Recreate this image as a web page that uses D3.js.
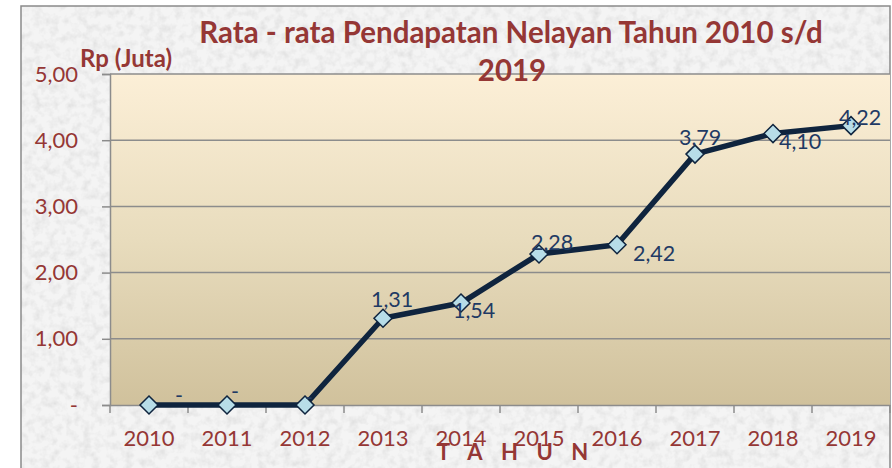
<!DOCTYPE html>
<html>
<head>
<meta charset="utf-8">
<script src="https://cdn.jsdelivr.net/npm/d3@7"></script>
<style>
    body { margin: 0; background: #fff; }
    svg { display: block; }
</style>
</head>
<body>
<div id="chart"></div>
<script>
const years = ["2010", "2011", "2012", "2013", "2014", "2015", "2016", "2017", "2018", "2019"];
const income = [0, 0, 0, 1.31, 1.54, 2.28, 2.42, 3.79, 4.10, 4.22];
const yTicks = [0, 1, 2, 3, 4, 5];
const yTickLabels = ["-", "1,00", "2,00", "3,00", "4,00", "5,00"];
const valueLabels = ["-", "-", "-", "1,31", "1,54", "2,28", "2,42", "3,79", "4,10", "4,22"];
// label nudges relative to each point (like excel put them)
const labelNudge = [[26, -2], [4, -6], [0, 0], [-12, -11], [-8, 15], [-8, -4], [16, 16], [-16, -9], [6, 15], [-12, -1]];

const width = 892, height = 468;
const margin = { top: 74, right: 2, bottom: 63, left: 110 };
const red = "#953735";
const navy = "#0f243e";
const font = "Lato, 'Open Sans', sans-serif";

const svg = d3.select("#chart").append("svg")
    .attr("width", width)
    .attr("height", height);

const defs = svg.append("defs");

// granite-ish background
const tex = defs.append("filter").attr("id", "granite")
    .attr("x", 0).attr("y", 0).attr("width", "100%").attr("height", "100%");
tex.append("feTurbulence").attr("type", "fractalNoise")
    .attr("baseFrequency", 0.12).attr("numOctaves", 3).attr("seed", 7).attr("result", "noise");
tex.append("feColorMatrix").attr("type", "matrix")
    .attr("values", "0 0 0 0 0.74  0 0 0 0 0.74  0 0 0 0 0.74  0 0 0 -1.9 1.12")
    .attr("in", "noise").attr("result", "spots");
tex.append("feFlood").attr("flood-color", "#f4f4f4").attr("result", "base");
tex.append("feComposite").attr("in", "spots").attr("in2", "base").attr("operator", "over");

const grad = defs.append("linearGradient").attr("id", "plotbg")
    .attr("x1", 0).attr("y1", 0).attr("x2", 0).attr("y2", 1);
grad.append("stop").attr("offset", "0%").attr("stop-color", "#fcefd7");
grad.append("stop").attr("offset", "50%").attr("stop-color", "#e8dcbd");
grad.append("stop").attr("offset", "100%").attr("stop-color", "#d0c19c");

svg.append("rect")
    .attr("x", 21).attr("y", 6)
    .attr("width", 869).attr("height", 470)
    .attr("fill", "#eee")
    .attr("filter", "url(#granite)");
svg.append("rect")
    .attr("x", 21).attr("y", 6)
    .attr("width", 869).attr("height", 470)
    .attr("fill", "none")
    .attr("stroke", "#8a8a8a")
    .attr("stroke-width", 1.5);

const x = d3.scaleBand()
    .domain(years)
    .range([margin.left, width - margin.right]);

const y = d3.scaleLinear()
    .domain([0, 5])
    .range([height - margin.bottom, margin.top]);

svg.append("rect")
    .attr("x", margin.left).attr("y", margin.top)
    .attr("width", x.range()[1] - margin.left)
    .attr("height", y(0) - margin.top)
    .attr("fill", "url(#plotbg)");

// gridlines
svg.append("g")
    .selectAll("line")
    .data(yTicks.slice(1))
    .enter()
    .append("line")
    .attr("x1", margin.left).attr("x2", x.range()[1])
    .attr("y1", d => y(d)).attr("y2", d => y(d))
    .attr("stroke", "#8c8c8c")
    .attr("stroke-width", 1.5);

// y axis
const yAxis = svg.append("g")
    .attr("transform", `translate(${margin.left},0)`)
    .call(d3.axisLeft(y).tickValues(yTicks).tickSize(8).tickPadding(24)
        .tickFormat((d, i) => yTickLabels[i]));
yAxis.select(".domain").attr("stroke", "#8c8c8c").attr("stroke-width", 1.5);
yAxis.selectAll(".tick line").attr("stroke", "#8c8c8c").attr("stroke-width", 1.5);
yAxis.selectAll(".tick text")
    .attr("fill", red)
    .style("font-family", font)
    .style("font-size", "22px");

// x axis
const xAxis = svg.append("g")
    .attr("transform", `translate(0,${y(0)})`)
    .call(d3.axisBottom(x).tickSize(0).tickPadding(25));
xAxis.select(".domain").attr("stroke", "#8c8c8c").attr("stroke-width", 1.5);
xAxis.selectAll(".tick text")
    .attr("fill", red)
    .style("font-family", font)
    .style("font-size", "22px");

// category separators
const bounds = years.map(d => x(d)).concat([x.range()[1]]);
xAxis.selectAll(".sep")
    .data(bounds)
    .enter()
    .append("line")
    .attr("class", "sep")
    .attr("x1", d => d).attr("x2", d => d)
    .attr("y1", 0).attr("y2", 8)
    .attr("stroke", "#8c8c8c")
    .attr("stroke-width", 1.5);

// title
const title = svg.append("text")
    .attr("x", 511).attr("y", 43)
    .attr("text-anchor", "middle")
    .attr("fill", red)
    .style("font-family", font)
    .style("font-weight", "bold")
    .style("font-size", "29.5px");
title.append("tspan").attr("x", 511).text("Rata - rata Pendapatan Nelayan Tahun 2010 s/d");
title.append("tspan").attr("x", 512).attr("dy", 38).text("2019");

svg.append("text")
    .attr("x", 80).attr("y", 67)
    .attr("fill", red)
    .style("font-family", font)
    .style("font-weight", "bold")
    .style("font-size", "24px")
    .text("Rp (Juta)");

svg.append("text")
    .attr("x", 437).attr("y", 460)
    .attr("fill", red)
    .style("font-family", font)
    .style("font-weight", "bold")
    .style("font-size", "22px")
    .style("letter-spacing", "18.5px")
    .text("TAHUN");

// line + markers
const pts = years.map((d, i) => ({ year: d, value: income[i], label: valueLabels[i], nudge: labelNudge[i] }));
const cx = d => x(d.year) + x.bandwidth() / 2;

svg.append("path")
    .datum(pts)
    .attr("fill", "none")
    .attr("stroke", navy)
    .attr("stroke-width", 5.5)
    .attr("stroke-linejoin", "round")
    .attr("d", d3.line().x(cx).y(d => y(d.value)));

svg.selectAll(".marker")
    .data(pts)
    .enter()
    .append("path")
    .attr("class", "marker")
    .attr("transform", d => `translate(${cx(d)},${y(d.value)})`)
    .attr("d", "M0,-9L9,0L0,9L-9,0Z")
    .attr("fill", "#b7dde8")
    .attr("stroke", navy)
    .attr("stroke-width", 1.5);

svg.selectAll(".vlabel")
    .data(pts)
    .enter()
    .append("text")
    .attr("class", "vlabel")
    .attr("x", d => cx(d) + d.nudge[0])
    .attr("y", d => y(d.value) + d.nudge[1])
    .attr("fill", "#1f3a64")
    .style("font-family", font)
    .style("font-size", "21.5px")
    .text(d => d.label);
</script>
</body>
</html>
